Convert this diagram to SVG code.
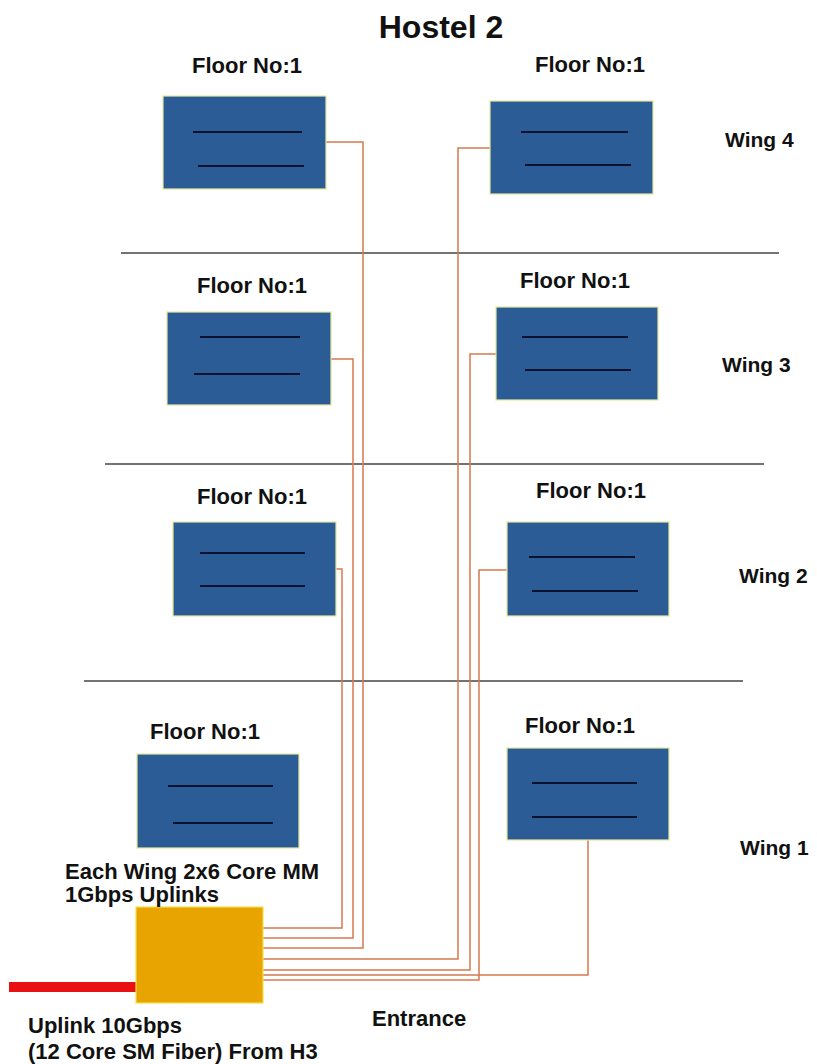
<svg xmlns="http://www.w3.org/2000/svg" width="817" height="1064" viewBox="0 0 817 1064">
<style>
text{font-family:"Liberation Sans",Arial,sans-serif;font-weight:bold;fill:#111}
.fl{font-size:22px;text-anchor:middle}
.wg{font-size:21px}
.lb{font-size:22px}
.box{fill:#2B5C96;stroke:#E6E89A;stroke-width:1.2}
.ln{stroke:#0B1230;stroke-width:2.2}
.cn{fill:none;stroke:#D77A4E;stroke-width:1.5}
.dv{stroke:#444;stroke-width:1.6}
</style>
<rect width="817" height="1064" fill="#fff"/>
<text x="441" y="38" font-size="32" text-anchor="middle">Hostel 2</text>
<g id="dividers">
<line class="dv" x1="121" y1="253" x2="779" y2="253"/>
<line class="dv" x1="105" y1="464" x2="764" y2="464"/>
<line class="dv" x1="84" y1="681" x2="743" y2="681"/>
</g>
<g id="wing-labels">
<text class="wg" x="725" y="147">Wing 4</text>
<text class="wg" x="722" y="372">Wing 3</text>
<text class="wg" x="739" y="583">Wing 2</text>
<text class="wg" x="740" y="855">Wing 1</text>
</g>
<g id="connectors">
<path class="cn" d="M326,142 H363 V948 H263"/>
<path class="cn" d="M490,148 H458 V959 H263"/>
<path class="cn" d="M331,359 H353 V938 H263"/>
<path class="cn" d="M496,354 H470 V970 H263"/>
<path class="cn" d="M336,569 H342 V928 H263"/>
<path class="cn" d="M507,570 H479 V980 H263"/>
<path class="cn" d="M588,840 V975 H263"/>
<line x1="9" y1="987" x2="137" y2="987" stroke="#E81010" stroke-width="10"/>
</g>
<g id="w4-left">
<text class="fl" x="247" y="73">Floor No:1</text>
<rect class="box" x="163" y="96" width="163" height="93"/>
<line class="ln" x1="193" y1="132" x2="302" y2="132" stroke-width="2.6"/>
<line class="ln" x1="198" y1="166" x2="304" y2="166" stroke-width="2.6"/>
</g>
<g id="w4-right">
<text class="fl" x="590" y="72">Floor No:1</text>
<rect class="box" x="490" y="101" width="163" height="93"/>
<line class="ln" x1="521" y1="132" x2="628" y2="132" stroke-width="2.6"/>
<line class="ln" x1="525" y1="165" x2="631" y2="165" stroke-width="2.6"/>
</g>
<g id="w3-left">
<text class="fl" x="252" y="293">Floor No:1</text>
<rect class="box" x="167" y="312" width="164" height="93"/>
<line class="ln" x1="200" y1="337" x2="300" y2="337"/>
<line class="ln" x1="194" y1="374" x2="300" y2="374"/>
</g>
<g id="w3-right">
<text class="fl" x="575" y="288">Floor No:1</text>
<rect class="box" x="496" y="307" width="162" height="93"/>
<line class="ln" x1="522" y1="337" x2="628" y2="337" stroke-width="3"/>
<line class="ln" x1="525" y1="370" x2="631" y2="370"/>
</g>
<g id="w2-left">
<text class="fl" x="252" y="504">Floor No:1</text>
<rect class="box" x="173" y="522" width="163" height="94"/>
<line class="ln" x1="200" y1="553" x2="305" y2="553"/>
<line class="ln" x1="200" y1="586" x2="305" y2="586"/>
</g>
<g id="w2-right">
<text class="fl" x="591" y="498">Floor No:1</text>
<rect class="box" x="507" y="522" width="162" height="94"/>
<line class="ln" x1="529" y1="557" x2="635" y2="557" stroke-width="2.6"/>
<line class="ln" x1="532" y1="591" x2="638" y2="591" stroke-width="2.6"/>
</g>
<g id="w1-left">
<text class="fl" x="205" y="739">Floor No:1</text>
<rect class="box" x="137" y="754" width="162" height="94"/>
<line class="ln" x1="168" y1="786" x2="273" y2="786"/>
<line class="ln" x1="173" y1="823" x2="273" y2="823"/>
</g>
<g id="w1-right">
<text class="fl" x="580" y="733">Floor No:1</text>
<rect class="box" x="507" y="748" width="162" height="92"/>
<line class="ln" x1="532" y1="783" x2="637" y2="783"/>
<line class="ln" x1="532" y1="817" x2="637" y2="817"/>
</g>
<g id="switch">
<rect x="136" y="907" width="127" height="96" fill="#E8A400" stroke="#F2E24A" stroke-width="1.2"/>
</g>
<g id="labels">
<text class="lb" x="65" y="879">Each Wing 2x6 Core MM</text>
<text class="lb" x="65" y="902">1Gbps Uplinks</text>
<text class="lb" x="28" y="1033">Uplink 10Gbps</text>
<text class="lb" x="28" y="1059">(12 Core SM Fiber) From H3</text>
<text class="lb" x="372" y="1026">Entrance</text>
</g>
</svg>
